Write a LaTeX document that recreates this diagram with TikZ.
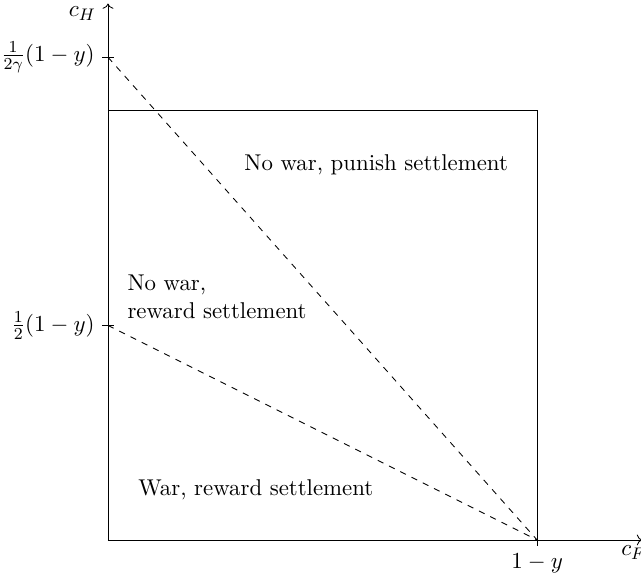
\documentclass[tikz,border=0pt]{standalone}
\usepackage{amsmath,amssymb}
\usetikzlibrary{arrows.meta,positioning}
\tikzset{region/.style={align=left}}

\begin{document}
\begin{tikzpicture}[>=To,font=\fontsize{10.9}{13.4}\selectfont]
\useasboundingbox (-1.812,-0.570) rectangle (8.943,9.06);
\coordinate (O) at (0,0);
\coordinate (XE) at (8.96,0);
\coordinate (YE) at (0,9.0);
\coordinate (F) at (7.2,0);
\coordinate (H) at (0,7.2);
\coordinate (C) at (7.2,7.2);
\coordinate (Yg) at (0,8.1);
\coordinate (Yh) at (0,3.6);
% axes
\draw[->] (O)--(XE);
\draw[->] (O)--(YE);
\node (cF) at (8.82,-0.21) {$c_F$};
\node (cH) at (-0.43,8.83) {$c_H$};
% ticks
\draw (Yg) ++(-0.1,0) -- ++(0.2,0) node[pos=0,left] (tg) {$\frac{1}{2\gamma}(1-y)$};
\draw (Yh) ++(-0.1,0) -- ++(0.2,0) node[pos=0,left] (th) {$\frac{1}{2}(1-y)$};
\draw (F) ++(0,-0.1) -- ++(0,0.2) node[pos=0,below] (tf) {$1-y$};
% feasible box
\draw (H)--(C)--(F);
% dividing lines
\draw[dashed] (Yg)--(F);
\draw[dashed] (Yh)--(F);
\node[region] (punish) at (4.50,6.30) {No war, punish settlement};
\node[region] (reward) at (1.83,4.08) {No war,\\reward settlement};
\node[region] (war) at (2.48,0.84) {War, reward settlement};
\end{tikzpicture}
\end{document}
